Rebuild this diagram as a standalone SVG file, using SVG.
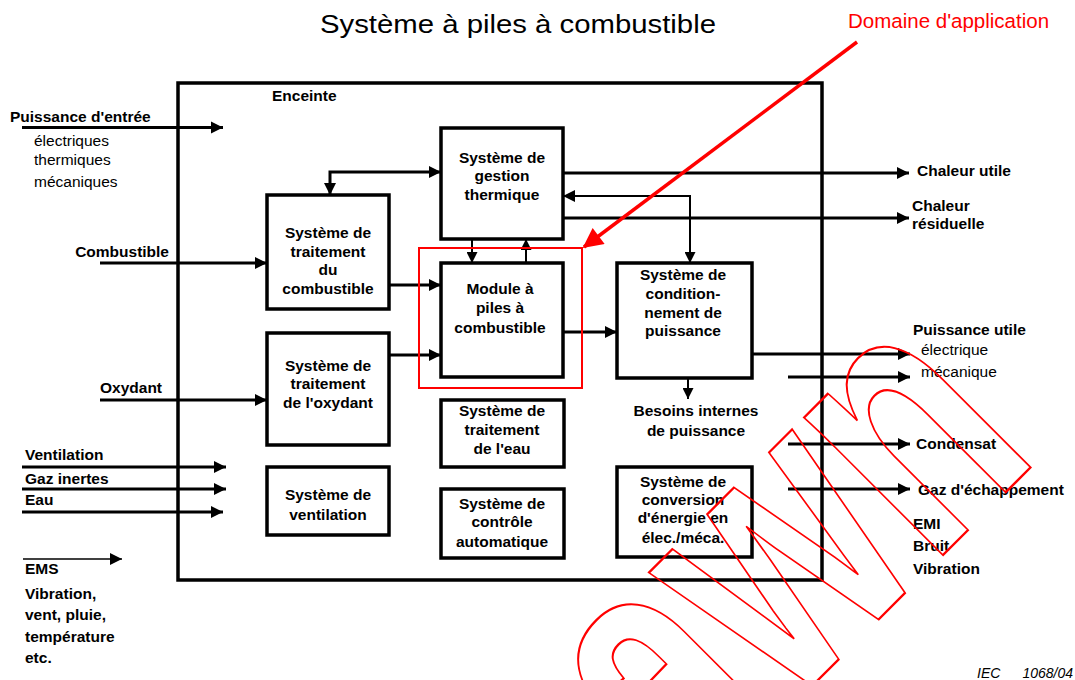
<svg xmlns="http://www.w3.org/2000/svg" width="1075" height="680" viewBox="0 0 1075 680">
<defs>
<marker id="ah" viewBox="0 0 12 12" refX="12" refY="6" markerWidth="12" markerHeight="13" markerUnits="userSpaceOnUse" orient="auto-start-reverse"><path d="M0,0 L12,6 L0,12 z" fill="#000"/></marker>
<marker id="ahs" viewBox="0 0 12 12" refX="12" refY="6" markerWidth="11" markerHeight="11" markerUnits="userSpaceOnUse" orient="auto-start-reverse"><path d="M0,0 L12,6 L0,12 z" fill="#000"/></marker>
<marker id="ahr" viewBox="0 0 12 12" refX="11" refY="6" markerWidth="22" markerHeight="20" markerUnits="userSpaceOnUse" orient="auto"><path d="M0,0 L12,6 L0,12 z" fill="#f00"/></marker>
</defs>
<style>
text{font-family:"Liberation Sans",Arial,Helvetica,sans-serif;fill:#000}
.b{font-weight:bold;font-size:15.5px}
.r{font-size:15.5px}
.c{text-anchor:middle}
.box{fill:#fff;stroke:#000;stroke-width:3.5}
.ln{fill:none;stroke:#000;stroke-width:3;marker-end:url(#ah)}
.th{fill:none;stroke:#000;stroke-width:2;marker-end:url(#ahs)}
</style>
<rect width="1075" height="680" fill="#fff"/>
<text x="518" y="33" class="c" font-size="26" textLength="396" lengthAdjust="spacingAndGlyphs">Système à piles à combustible</text>
<text x="848" y="28" font-size="20.5" style="fill:#f00">Domaine d'application</text>

<g id="enceinte">
<rect x="178" y="83" width="644" height="497" fill="none" stroke="#000" stroke-width="3.5"/>
<text x="272" y="101" class="b" font-size="14.5">Enceinte</text>
</g>

<g id="connectors">
<line x1="22" y1="127.5" x2="223" y2="127.5" class="ln"/>
<line x1="100" y1="263" x2="267" y2="263" class="ln"/>
<line x1="100" y1="400" x2="267" y2="400" class="ln"/>
<line x1="22" y1="467" x2="226" y2="467" class="ln"/>
<line x1="22" y1="489" x2="226" y2="489" class="ln"/>
<line x1="22" y1="512" x2="223" y2="512" class="ln"/>
<line x1="23" y1="559" x2="122" y2="559" fill="none" stroke="#000" stroke-width="1.5" marker-end="url(#ah)"/>
<path d="M441,172 L330,172 L330,195" class="ln" marker-start="url(#ah)"/>
<line x1="389" y1="285" x2="441" y2="285" class="ln"/>
<line x1="389" y1="355" x2="441" y2="355" class="ln"/>
<line x1="472" y1="239" x2="472" y2="263" class="th"/>
<line x1="526" y1="263" x2="526" y2="239" class="th"/>
<line x1="563" y1="332" x2="617" y2="332" class="ln"/>
<line x1="563" y1="173" x2="909" y2="173" class="ln"/>
<path d="M563,196 L690,196 L690,263" class="th" marker-start="url(#ah)" marker-end="url(#ah)"/>
<line x1="563" y1="218" x2="909" y2="218" class="ln"/>
<line x1="688" y1="378" x2="688" y2="399" class="th"/>
<line x1="752" y1="354" x2="910" y2="354" class="ln"/>
<line x1="788" y1="377" x2="910" y2="377" class="ln"/>
<line x1="788" y1="444" x2="910" y2="444" class="ln"/>
<line x1="788" y1="489" x2="910" y2="489" class="ln"/>
</g>

<g id="n-traitement-combustible">
<rect x="267" y="195" width="122" height="114" class="box"/>
<text class="b c" x="328"><tspan x="328" y="238">Système de</tspan><tspan x="328" y="256.5">traitement</tspan><tspan x="328" y="275">du</tspan><tspan x="328" y="293.5">combustible</tspan></text>
</g>
<g id="n-traitement-oxydant">
<rect x="267" y="333" width="122" height="112" class="box"/>
<text class="b c"><tspan x="328" y="370.5">Système de</tspan><tspan x="328" y="388.5">traitement</tspan><tspan x="328" y="407.5">de l'oxydant</tspan></text>
</g>
<g id="n-ventilation">
<rect x="267" y="467" width="122" height="68" class="box"/>
<text class="b c"><tspan x="328" y="499.5">Système de</tspan><tspan x="328" y="519.5">ventilation</tspan></text>
</g>
<g id="n-gestion-thermique">
<rect x="441" y="128" width="122" height="111" class="box"/>
<text class="b c"><tspan x="502" y="162.5">Système de</tspan><tspan x="502" y="180.5">gestion</tspan><tspan x="502" y="199.5">thermique</tspan></text>
</g>
<g id="n-module">
<rect x="441" y="263" width="122" height="114" class="box"/>
<text class="b c"><tspan x="500" y="293.5">Module à</tspan><tspan x="500" y="313">piles à</tspan><tspan x="500" y="332.5">combustible</tspan></text>
</g>
<g id="n-domaine">
<rect x="419" y="248" width="163" height="140" fill="none" stroke="#f00" stroke-width="2"/>
<line x1="857" y1="42" x2="584" y2="247" stroke="#f00" stroke-width="3.5" marker-end="url(#ahr)"/>
</g>
<g id="n-conditionnement">
<rect x="617" y="263" width="135" height="115" class="box"/>
<text class="b c"><tspan x="683" y="279.5">Système de</tspan><tspan x="683" y="298.5">condition-</tspan><tspan x="683" y="317.5">nement de</tspan><tspan x="683" y="335.5">puissance</tspan></text>
</g>
<g id="n-eau">
<rect x="441" y="400" width="123" height="67" class="box"/>
<text class="b c"><tspan x="502" y="415.5">Système de</tspan><tspan x="502" y="434.5">traitement</tspan><tspan x="502" y="453.5">de l'eau</tspan></text>
</g>
<g id="n-controle">
<rect x="441" y="489" width="123" height="69" class="box"/>
<text class="b c"><tspan x="502" y="508.5">Système de</tspan><tspan x="502" y="526.5">contrôle</tspan><tspan x="502" y="546.5">automatique</tspan></text>
</g>
<g id="n-conversion">
<rect x="617" y="467" width="135" height="90" class="box"/>
<text class="b c"><tspan x="683" y="486.5">Système de</tspan><tspan x="683" y="504.5">conversion</tspan><tspan x="683" y="522.5">d'énergie en</tspan><tspan x="683" y="542.5">élec./méca.</tspan></text>
</g>
<g id="n-besoins">
<text class="b c"><tspan x="696" y="415.5">Besoins internes</tspan><tspan x="696" y="435.5">de puissance</tspan></text>
</g>

<g id="left-labels">
<text class="b" x="10" y="121.5">Puissance d'entrée</text>
<text class="r" x="34" y="145.5">électriques</text>
<text class="r" x="34" y="165">thermiques</text>
<text class="r" x="34" y="187">mécaniques</text>
<text class="b" x="169" y="256.5" text-anchor="end">Combustible</text>
<text class="b" x="100" y="392.5">Oxydant</text>
<text class="b" x="25" y="459.5">Ventilation</text>
<text class="b" x="25" y="483.5">Gaz inertes</text>
<text class="b" x="25" y="504.5">Eau</text>
<text class="b" x="25" y="573.5">EMS</text>
<text class="b" x="25" y="598.5">Vibration,</text>
<text class="b" x="25" y="620">vent, pluie,</text>
<text class="b" x="25" y="641.5">température</text>
<text class="b" x="25" y="662.5">etc.</text>
</g>

<g id="right-labels">
<text class="b" x="917" y="175.5">Chaleur utile</text>
<text class="b" x="912" y="210.5">Chaleur</text>
<text class="b" x="912" y="228.5">résiduelle</text>
<text class="b" x="913" y="334.5">Puissance utile</text>
<text class="r" x="921" y="355">électrique</text>
<text class="r" x="921" y="377">mécanique</text>
<text class="b" x="916" y="448.5">Condensat</text>
<text class="b" x="918" y="494.5">Gaz d'échappement</text>
<text class="b" x="913" y="528.5">EMI</text>
<text class="b" x="913" y="550.5">Bruit</text>
<text class="b" x="913" y="573.5">Vibration</text>
</g>

<text x="977" y="678" font-size="14" font-style="italic">IEC</text>
<text x="1073" y="678" font-size="14" font-style="italic" text-anchor="end">1068/04</text>

<g id="watermark">
<text transform="translate(1042,456) rotate(-45) scale(0.7,1)" x="0" y="0" text-anchor="end" font-size="370" font-weight="bold" style="fill:none;stroke:#f00;stroke-width:2" vector-effect="non-scaling-stroke">awn</text>
</g>
</svg>
